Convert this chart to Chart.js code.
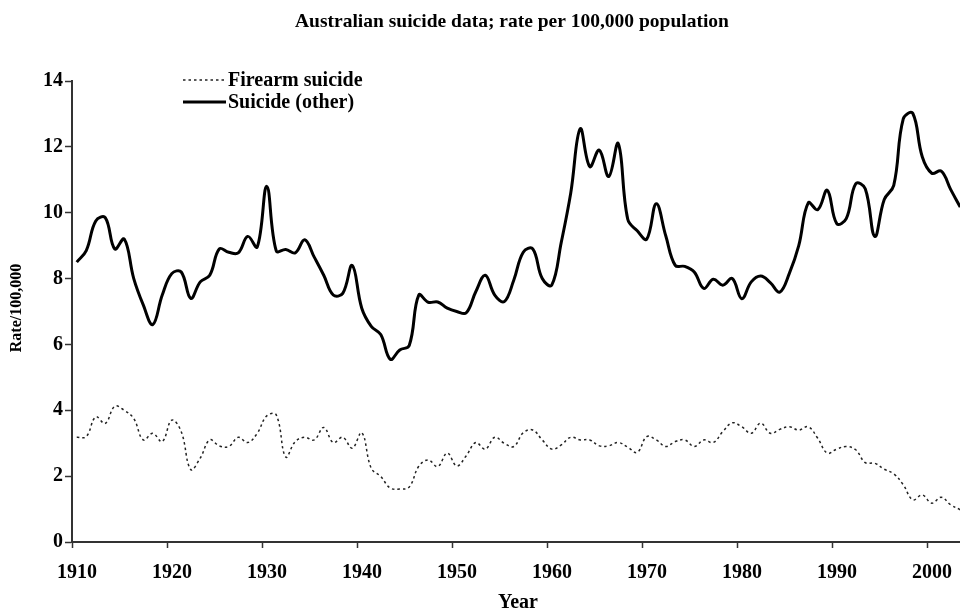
<!DOCTYPE html>
<html><head><meta charset="utf-8">
<script src="https://cdn.jsdelivr.net/npm/chart.js@4.4.0/dist/chart.umd.min.js"></script>
<style>html,body{margin:0;padding:0;background:#fff}#wrap{width:960px;height:612px;position:relative}</style>
</head><body><div id="wrap"><canvas id="c" width="960" height="612"></canvas></div>
<script>
const chartTitle = "Australian suicide data; rate per 100,000 population";
const xAxisTitle = "Year";
const yAxisTitle = "Rate/100,000";
const seriesNames = ["Firearm suicide", "Suicide (other)"];
const years = [1910,1911,1912,1913,1914,1915,1916,1917,1918,1919,
  1920,1921,1922,1923,1924,1925,1926,1927,1928,1929,
  1930,1931,1932,1933,1934,1935,1936,1937,1938,1939,
  1940,1941,1942,1943,1944,1945,1946,1947,1948,1949,
  1950,1951,1952,1953,1954,1955,1956,1957,1958,1959,
  1960,1961,1962,1963,1964,1965,1966,1967,1968,1969,
  1970,1971,1972,1973,1974,1975,1976,1977,1978,1979,
  1980,1981,1982,1983,1984,1985,1986,1987,1988,1989,
  1990,1991,1992,1993,1994,1995,1996,1997,1998,1999,
  2000,2001,2002,2003];
const firearmRates = [3.18,3.2,3.8,3.6,4.12,4.0,3.75,3.1,3.3,3.05,
  3.7,3.35,2.2,2.55,3.1,2.92,2.9,3.18,3.02,3.3,
  3.83,3.86,2.58,3.05,3.18,3.1,3.48,3.02,3.18,2.85,
  3.32,2.24,1.99,1.64,1.61,1.67,2.3,2.49,2.29,2.7,
  2.31,2.62,3.02,2.82,3.18,3.0,2.9,3.32,3.4,3.1,
  2.82,2.95,3.18,3.1,3.1,2.92,2.92,3.02,2.88,2.72,
  3.2,3.1,2.9,3.05,3.1,2.9,3.1,3.02,3.35,3.62,
  3.5,3.3,3.61,3.3,3.42,3.5,3.4,3.5,3.15,2.7,
  2.82,2.9,2.8,2.41,2.39,2.21,2.07,1.74,1.28,1.43,
  1.18,1.36,1.13,0.98];
const otherRates = [8.5,8.85,9.75,9.85,8.9,9.2,8.0,7.2,6.6,7.5,
  8.15,8.2,7.4,7.9,8.1,8.9,8.8,8.78,9.28,8.96,
  10.8,8.84,8.88,8.78,9.18,8.65,8.1,7.5,7.55,8.4,
  7.1,6.55,6.3,5.55,5.83,5.97,7.5,7.28,7.29,7.1,
  7.0,6.96,7.6,8.1,7.5,7.3,7.95,8.8,8.9,8.0,
  7.8,9.1,10.6,12.55,11.4,11.9,11.1,12.1,9.8,9.45,
  9.2,10.27,9.3,8.4,8.37,8.2,7.7,7.98,7.8,8.0,
  7.39,7.9,8.08,7.88,7.59,8.15,9.0,10.3,10.09,10.68,
  9.67,9.82,10.88,10.73,9.28,10.4,10.83,12.85,13.02,11.7,
  11.2,11.26,10.7,10.17];
const xTickYears = [1910,1920,1930,1940,1950,1960,1970,1980,1990,2000];
const yTickValues = [0,2,4,6,8,10,12,14];

const FONT = "'Liberation Serif','Times New Roman',serif";
const axisColor = '#333';

// each year's value sits in the middle of its category slot
const toPoints = arr => years.map((yr, i) => ({x: yr + 0.5, y: arr[i]}));

const textPlugin = {
  id: 'texts',
  afterDraw(chart) {
    const ctx = chart.ctx;
    const area = chart.chartArea;
    ctx.save();
    ctx.fillStyle = '#000';
    ctx.font = "bold 19.5px " + FONT;
    ctx.textAlign = 'center';
    ctx.textBaseline = 'middle';
    ctx.fillText(chartTitle, (area.left + area.right) / 2 - 4, 22);
    ctx.font = "bold 20px " + FONT;
    ctx.fillText(xAxisTitle, (area.left + area.right) / 2 + 2, 603);
    ctx.save();
    ctx.translate(17, 308);
    ctx.rotate(-Math.PI / 2);
    ctx.font = "bold 16px " + FONT;
    ctx.fillText(yAxisTitle, 0, 0);
    ctx.restore();
    const ds = chart.data.datasets;
    const rows = [80, 102];
    ds.forEach((d, i) => {
      ctx.save();
      ctx.strokeStyle = d.borderColor;
      ctx.lineWidth = d.borderWidth;
      ctx.setLineDash(d.borderDash || []);
      ctx.beginPath();
      ctx.moveTo(183, rows[i]);
      ctx.lineTo(226, rows[i]);
      ctx.stroke();
      ctx.restore();
      ctx.font = "bold 20px " + FONT;
      ctx.textAlign = 'left';
      ctx.textBaseline = 'middle';
      ctx.fillText(d.label, 228, rows[i] + 1);
    });
    ctx.restore();
  }
};

new Chart(document.getElementById('c'), {
  type: 'line',
  data: {
    datasets: [
      {label: seriesNames[0], data: toPoints(firearmRates), borderColor: '#222', borderWidth: 1.5,
       borderDash: [2.5, 3], pointRadius: 0, tension: 0.4, fill: false},
      {label: seriesNames[1], data: toPoints(otherRates), borderColor: '#000', borderWidth: 3,
       pointRadius: 0, tension: 0.4, fill: false}
    ]
  },
  options: {
    responsive: false,
    animation: false,
    devicePixelRatio: 1,
    layout: {padding: {top: 81, right: 0, bottom: 0, left: 0}},
    plugins: {legend: {display: false}, title: {display: false}, tooltip: {enabled: false}},
    scales: {
      x: {
        type: 'linear', min: 1910, max: 2003.47,
        afterBuildTicks: s => { s.ticks = xTickYears.map(v => ({value: v})); },
        afterFit: s => { s.height = 70; },
        ticks: {color: '#000', font: {family: FONT, size: 20, weight: 'bold'}, padding: 13,
                labelOffset: 5, maxRotation: 0, autoSkip: false, callback: v => String(v)},
        grid: {drawOnChartArea: false, drawTicks: true, tickLength: 6, color: axisColor, tickWidth: 1.5},
        border: {color: axisColor, width: 2}
      },
      y: {
        min: 0, max: 14,
        afterBuildTicks: s => { s.ticks = yTickValues.map(v => ({value: v})); },
        afterFit: s => { s.width = 72; },
        ticks: {color: '#000', font: {family: FONT, size: 20, weight: 'bold'}, padding: 2},
        grid: {drawOnChartArea: false, drawTicks: true, tickLength: 7, color: axisColor, tickWidth: 1.5},
        border: {color: axisColor, width: 2}
      }
    }
  },
  plugins: [textPlugin]
});
</script></body></html>
